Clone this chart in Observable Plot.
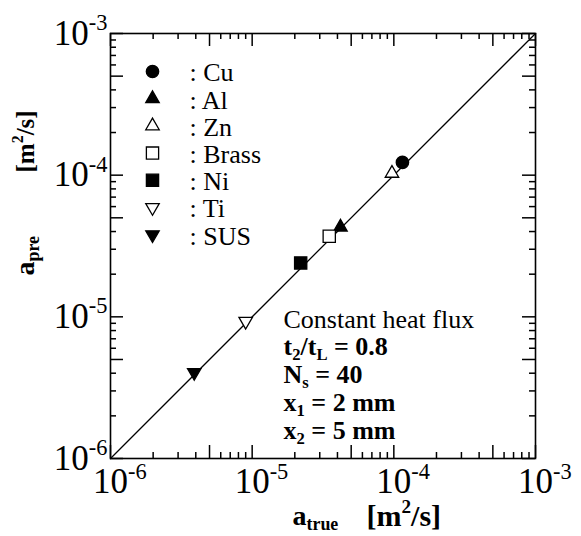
<!DOCTYPE html>
<html>
<head>
<meta charset="utf-8">
<script src="https://cdn.jsdelivr.net/npm/d3@7"></script>
<script src="https://cdn.jsdelivr.net/npm/@observablehq/plot@0.6"></script>
<style>
  html, body { margin: 0; padding: 0; background: white; }
</style>
</head>
<body>
<script>
// ---- data ----
const materials = ["Cu", "Al", "Zn", "Brass", "Ni", "Ti", "SUS"];
const aTrue = [1.15e-4, 4.2e-5, 9.7e-5, 3.5e-5, 2.2e-5, 9.0e-6, 3.9e-6];
const aPre  = [1.23e-4, 4.3e-5, 1.03e-4, 3.7e-5, 2.4e-5, 9.3e-6, 4.05e-6];
const symbols = ["circle", "triangle", "triangle", "square", "square", "triangle", "triangle"];
const filled  = [true, true, false, false, true, false, true];
const flipped = [false, false, false, false, false, true, true];

const decades = [1e-6, 1e-5, 1e-4, 1e-3];
const decadeExp = ["-6", "-5", "-4", "-3"];
const midTicks = [5e-6, 5e-5, 5e-4];
const minorTicks = [2e-6,3e-6,4e-6,6e-6,7e-6,8e-6,9e-6,
                    2e-5,3e-5,4e-5,6e-5,7e-5,8e-5,9e-5,
                    2e-4,3e-4,4e-4,6e-4,7e-4,8e-4,9e-4];
const domain = [1e-6, 1e-3];
const noteLines = ["Constant heat flux", "t_{2}/t_{L} = 0.8", "N_{s} = 40", "x_{1} = 2 mm", "x_{2} = 5 mm"];
const noteBold = [false, true, true, true, true];
const xTitle = ["a_{true}", "[m^{2}/s]"];
const yTitle = ["a_{pre}", "[m^{2}/s]"];

// ---- layout ----
const W = 581, H = 536;
const mL = 110, mR = 46, mT = 33, mB = 78;
const iW = W - mL - mR, iH = H - mT - mB;
const bigTick = 13, smallTick = 6;
const font = "Liberation Serif";
const decadesSpan = Math.log10(domain[1] / domain[0]);

// convert a tick length in pixels into a factor along each log axis
const factorX = px => Math.pow(10, px * decadesSpan / iW);
const factorY = px => Math.pow(10, px * decadesSpan / iH);

const rOf = s => s === "circle" ? 6.2 : s === "square" ? 6.9 : 5.0;

const marks = [];

// diagonal
marks.push(Plot.line(domain, {x: d => d, y: d => d, stroke: "black", strokeWidth: 1.3}));

// ticks (inward) on four sides
const tickSets = [[decades.concat(midTicks), bigTick], [minorTicks, smallTick]];
for (const [ticks, len] of tickSets) {
  const fy = factorY(len), fx = factorX(len);
  const st = {stroke: "black", strokeWidth: 1.5};
  marks.push(Plot.ruleX(ticks, {x: d => d, y1: domain[0], y2: domain[0] * fy, ...st}));
  marks.push(Plot.ruleX(ticks, {x: d => d, y1: domain[1] / fy, y2: domain[1], ...st}));
  marks.push(Plot.ruleY(ticks, {y: d => d, x1: domain[0], x2: domain[0] * fx, ...st}));
  marks.push(Plot.ruleY(ticks, {y: d => d, x1: domain[1] / fx, x2: domain[1], ...st}));
}

marks.push(Plot.frame({stroke: "black", strokeWidth: 1.6}));

// tick labels
marks.push(Plot.text(decades, {
  x: d => d, frameAnchor: "bottom", text: (d, i) => `10^{${decadeExp[i]}}`,
  textAnchor: "start", lineAnchor: "top", dx: -17.5, dy: 10, fontSize: 35, fill: "black"
}));
marks.push(Plot.text(decades, {
  y: d => d, frameAnchor: "left", text: (d, i) => `10^{${decadeExp[i]}}`,
  textAnchor: "end", lineAnchor: "middle", dx: -3, fontSize: 35, fill: "black"
}));

// data points and legend
materials.forEach((m, i) => {
  const sym = symbols[i];
  const style = {
    symbol: sym, r: rOf(sym), fill: filled[i] ? "black" : "white",
    stroke: "black", strokeWidth: 1.3, rotate: flipped[i] ? 180 : 0
  };
  marks.push(Plot.dot([i], {x: j => aTrue[j], y: j => aPre[j], ...style}));
  marks.push(Plot.dot([i], {frameAnchor: "top-left", dx: 42, dy: 38 + 27.2 * i, ...style}));
  marks.push(Plot.text([": " + m], {
    frameAnchor: "top-left", dx: 79, dy: 39.5 + 27.2 * i, textAnchor: "start",
    lineAnchor: "middle", fontSize: 26, fill: "black"
  }));
});

// annotation
const noteDy = [294, 321, 349, 377, 405];
noteLines.forEach((t, i) => {
  marks.push(Plot.text([t], {
    frameAnchor: "top-left", dx: 173, dy: noteDy[i], textAnchor: "start", lineAnchor: "bottom",
    fontSize: 26, fontWeight: noteBold[i] ? "bold" : "normal", fill: "black"
  }));
});

// axis titles
marks.push(Plot.text([xTitle[0]], {frameAnchor: "bottom-left", dx: 182, dy: 66, textAnchor: "start", lineAnchor: "bottom", fontSize: 28, fontWeight: "bold", fill: "black"}));
marks.push(Plot.text([xTitle[1]], {frameAnchor: "bottom-left", dx: 256, dy: 67, textAnchor: "start", lineAnchor: "bottom", fontSize: 30, fontWeight: "bold", fill: "black"}));
marks.push(Plot.text([yTitle[0]], {frameAnchor: "top-left", dx: -77, dy: 242, rotate: -90, textAnchor: "start", lineAnchor: "bottom", fontSize: 28, fontWeight: "bold", fill: "black"}));
marks.push(Plot.text([yTitle[1]], {frameAnchor: "top-left", dx: -77, dy: 139, rotate: -90, textAnchor: "start", lineAnchor: "bottom", fontSize: 25, fontWeight: "bold", fill: "black"}));

const chart = Plot.plot({
  width: W, height: H,
  marginLeft: mL, marginRight: mR, marginTop: mT, marginBottom: mB,
  x: {type: "log", domain, axis: null},
  y: {type: "log", domain, axis: null},
  style: {fontFamily: font, background: "white", color: "black"},
  marks
});
document.body.appendChild(chart);

// rich text: ^{..} superscript, _{..} subscript
const NS = "http://www.w3.org/2000/svg";
d3.select(chart).selectAll("text").each(function () {
  const el = this;
  const s = el.textContent;
  if (!/[\^_]\{/.test(s)) return;
  const fs = parseFloat(getComputedStyle(el).fontSize) || 16;
  while (el.firstChild) el.removeChild(el.firstChild);
  const add = (txt, dy, size) => {
    const t = document.createElementNS(NS, "tspan");
    if (dy) t.setAttribute("dy", dy);
    if (size) t.setAttribute("font-size", size);
    t.textContent = txt;
    el.appendChild(t);
  };
  const re = /([\^_])\{([^}]*)\}/g;
  let last = 0, off = 0, m;
  while ((m = re.exec(s))) {
    if (m.index > last) { add(s.slice(last, m.index), -off); off = 0; }
    const sh = m[1] === "^" ? -0.42 * fs : 0.2 * fs;
    add(m[2], sh - off, 0.64 * fs);
    off = sh;
    last = re.lastIndex;
  }
  if (last < s.length) add(s.slice(last), -off);
});
</script>
</body>
</html>
